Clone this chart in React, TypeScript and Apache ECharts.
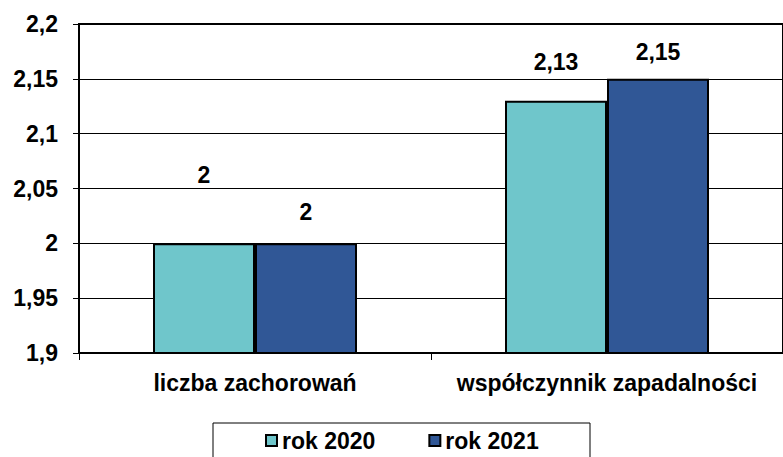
import React, { useEffect, useRef } from "react";
import * as echarts from "echarts";

const categories = ["liczba zachorowań", "współczynnik zapadalności"];
const series2020 = [2, 2.13];
const series2021 = [2, 2.15];
const seriesNames = ["rok 2020", "rok 2021"];
const yTicks = [1.9, 1.95, 2, 2.05, 2.1, 2.15, 2.2];

const fmt = (v: number) => String(v).replace(".", ",");

export default function App() {
  const ref = useRef<HTMLDivElement>(null);
  useEffect(() => {
    if (!ref.current) return;
    const chart = echarts.init(ref.current, undefined, { renderer: "svg" });
    const font = "'Liberation Sans', Arial, sans-serif";
    const fs = 23;
    const labelBase = {
      show: true,
      position: "top",
      distance: 5,
      fontFamily: font,
      fontWeight: "bold",
      fontSize: fs,
      color: "#000",
      formatter: (p: any) => fmt(p.value),
    };
    const off2020 = [-52, -22];
    const off2021 = [-15, -10];
    chart.setOption({
      animation: false,
      grid: {
        left: 79,
        top: 24,
        bottom: 104,
        right: -6,
        show: true,
        borderColor: "#000",
        borderWidth: 2,
        backgroundColor: "transparent",
      },
      legend: {
        left: 265,
        top: 429,
        padding: 0,
        itemWidth: 11,
        itemHeight: 11,
        itemGap: 53,
        icon: "rect",
        textStyle: { fontFamily: font, fontWeight: "bold", fontSize: fs, color: "#000" },
        data: seriesNames,
      },
      xAxis: {
        type: "category",
        data: categories,
        axisLine: { lineStyle: { color: "#000", width: 2 } },
        axisTick: { show: true, length: 7, lineStyle: { color: "#000", width: 1 } },
        axisLabel: {
          interval: 0,
          margin: 18,
          fontFamily: font,
          fontWeight: "bold",
          fontSize: fs,
          color: "#000",
        },
      },
      yAxis: {
        type: "value",
        min: yTicks[0],
        max: yTicks[yTicks.length - 1],
        interval: 0.05,
        axisLine: { show: true, lineStyle: { color: "#000", width: 2 } },
        axisTick: { show: true, length: 6, lineStyle: { color: "#000", width: 1 } },
        splitLine: { lineStyle: { color: "#000", width: 1 } },
        axisLabel: {
          margin: 21,
          fontFamily: font,
          fontWeight: "bold",
          fontSize: fs,
          color: "#000",
          formatter: (v: number) => fmt(Math.round(v * 100) / 100),
        },
      },
      series: [
        {
          name: seriesNames[0],
          type: "bar",
          barWidth: 102,
          barGap: "0%",
          itemStyle: { color: "#6FC6CB", borderColor: "#000", borderWidth: 2 },
          label: labelBase,
          data: series2020.map((v, i) => ({ value: v, label: { offset: [0, off2020[i]] } })),
        },
        {
          name: seriesNames[1],
          type: "bar",
          barWidth: 102,
          barGap: "0%",
          itemStyle: { color: "#305796", borderColor: "#000", borderWidth: 2 },
          label: labelBase,
          data: series2021.map((v, i) => ({ value: v, label: { offset: [0, off2021[i]] } })),
        },
      ],
      graphic: [
        {
          type: "rect",
          shape: { x: 213, y: 423, width: 377, height: 50 },
          style: { fill: "none", stroke: "#000", lineWidth: 1 },
          silent: true,
        },
      ],
    });
    return () => chart.dispose();
  }, []);
  return <div ref={ref} style={{ width: 783, height: 457, position: "absolute", left: 0, top: 0 }} />;
}
